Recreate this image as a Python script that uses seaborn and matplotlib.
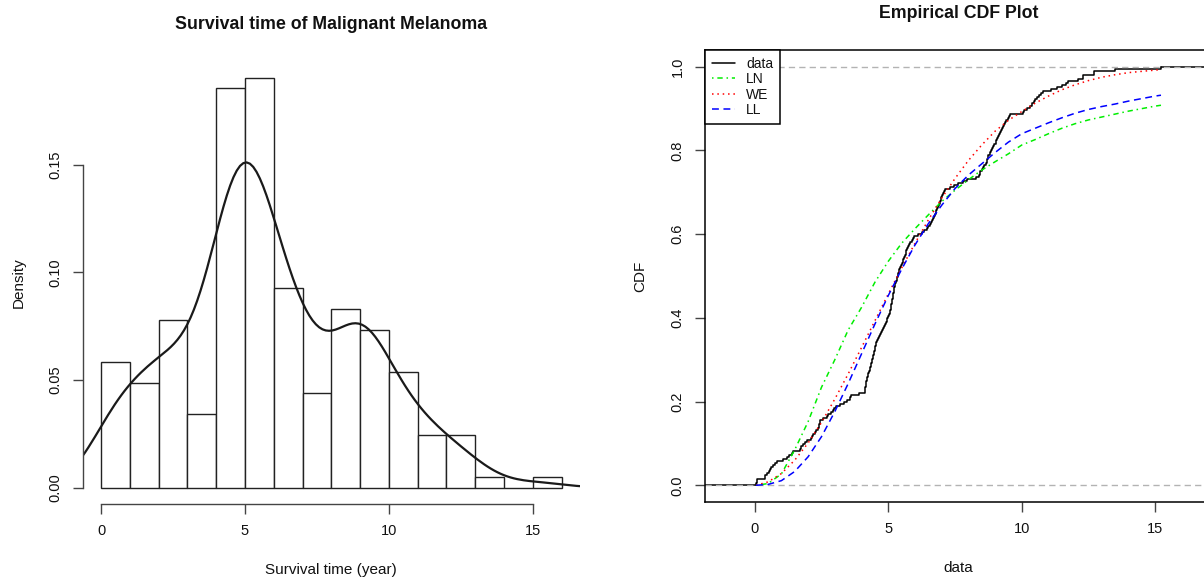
import matplotlib
matplotlib.use("Agg")
import matplotlib.pyplot as plt
import numpy as np
import seaborn as sns

# -----------------------------------------------------------------------------
# Data
# -----------------------------------------------------------------------------
# survival times in years, 205 patients (grouped by 1-year bin)
survival_years = [
    0.06, 0.07, 0.08, 0.37, 0.38, 0.45, 0.55, 0.59, 0.62, 0.70, 0.75, 0.85,
    1.05, 1.20, 1.30, 1.40, 1.45, 1.70, 1.75, 1.80, 1.90, 1.97,
    2.10, 2.15, 2.20, 2.25, 2.30, 2.38, 2.40, 2.42, 2.43, 2.45, 2.55, 2.70,
    2.75, 2.85, 2.93, 2.98,
    3.05, 3.20, 3.35, 3.45, 3.55, 3.60, 3.90,
    4.12, 4.13, 4.14, 4.15, 4.16, 4.18, 4.20, 4.22, 4.24, 4.26, 4.28, 4.30,
    4.32, 4.34, 4.36, 4.38, 4.40, 4.42, 4.44, 4.46, 4.48, 4.50, 4.52, 4.54,
    4.56, 4.58, 4.62, 4.66, 4.70, 4.73, 4.76, 4.80, 4.84, 4.88, 4.91, 4.94,
    4.97, 4.99,
    5.02, 5.05, 5.08, 5.10, 5.11, 5.12, 5.14, 5.15, 5.16, 5.18, 5.19, 5.20,
    5.22, 5.23, 5.25, 5.27, 5.29, 5.31, 5.33, 5.35, 5.37, 5.39, 5.42, 5.45,
    5.48, 5.51, 5.54, 5.57, 5.60, 5.62, 5.65, 5.67, 5.70, 5.74, 5.78, 5.83,
    5.88, 5.93, 5.98,
    6.10, 6.25, 6.35, 6.45, 6.50, 6.55, 6.60, 6.65, 6.68, 6.72, 6.75, 6.78,
    6.80, 6.82, 6.86, 6.90, 6.93, 6.96, 6.98,
    7.02, 7.05, 7.08, 7.12, 7.30, 7.45, 7.60, 7.80, 7.95,
    8.30, 8.40, 8.42, 8.45, 8.50, 8.55, 8.60, 8.65, 8.68, 8.70, 8.72, 8.75,
    8.80, 8.84, 8.88, 8.92, 8.96,
    9.02, 9.05, 9.08, 9.12, 9.15, 9.18, 9.22, 9.26, 9.30, 9.34, 9.37, 9.42,
    9.47, 9.52, 9.55,
    10.05, 10.10, 10.20, 10.30, 10.40, 10.45, 10.50, 10.55, 10.65, 10.72, 10.80,
    11.10, 11.30, 11.50, 11.65, 11.73,
    12.10, 12.28, 12.29, 12.70, 12.72,
    13.47,
    15.21,
]

hist_bins = list(range(0, 17))

# fitted CDFs, evaluated between min and max of the data
fit_x = [0.05, 0.5, 1.0, 1.5, 2.0, 2.5, 3.0, 3.5, 4.0, 4.5, 5.0, 5.5, 6.0, 6.5,
         7.0, 7.5, 8.0, 8.5, 9.0, 9.5, 10.0, 10.5, 11.0, 11.5, 12.0, 12.5,
         13.0, 13.5, 14.0, 14.5, 15.0, 15.21]
ln_cdf = [0.0, 0.004, 0.027, 0.085, 0.152, 0.234, 0.300, 0.371, 0.425, 0.485,
          0.535, 0.578, 0.613, 0.646, 0.678, 0.705, 0.730, 0.753, 0.773, 0.792,
          0.813, 0.826, 0.840, 0.853, 0.864, 0.873, 0.880, 0.887, 0.894, 0.900,
          0.906, 0.908]
we_cdf = [0.0, 0.008, 0.028, 0.060, 0.101, 0.150, 0.206, 0.266, 0.329, 0.393,
          0.457, 0.519, 0.578, 0.634, 0.686, 0.733, 0.776, 0.813, 0.846, 0.872,
          0.893, 0.913, 0.930, 0.945, 0.957, 0.967, 0.975, 0.981, 0.986, 0.989,
          0.992, 0.993]
ll_cdf = [0.0, 0.002, 0.011, 0.033, 0.068, 0.116, 0.176, 0.243, 0.314, 0.385,
          0.453, 0.516, 0.574, 0.625, 0.669, 0.709, 0.741, 0.768, 0.795, 0.820,
          0.840, 0.853, 0.866, 0.878, 0.889, 0.898, 0.905, 0.911, 0.918, 0.924,
          0.930, 0.932]

FIG_W, FIG_H = 1204, 578
TEXT_COL = "#111111"
AXIS_COL = "#444444"
TICK_SIZE = 10.5
LABEL_SIZE = 11
TITLE_SIZE = 12.8

sns.set_style("ticks")
plt.rcParams["font.family"] = ["Liberation Sans", "DejaVu Sans"]
plt.rcParams["text.color"] = TEXT_COL
plt.rcParams["axes.labelcolor"] = TEXT_COL
plt.rcParams["xtick.color"] = TEXT_COL
plt.rcParams["ytick.color"] = TEXT_COL


def box(left, top, right, bottom):
    # pixel box -> figure fraction
    return [left / FIG_W, 1 - bottom / FIG_H, (right - left) / FIG_W, (bottom - top) / FIG_H]


fig = plt.figure(figsize=(FIG_W / 100, FIG_H / 100), dpi=100)
fig.patch.set_facecolor("white")

# -----------------------------------------------------------------------------
# Left: histogram + kernel density
# -----------------------------------------------------------------------------
ax1 = fig.add_axes(box(82.7, 61.6, 580, 504))
data = np.asarray(survival_years)

sns.histplot(x=data, bins=hist_bins, stat="density", ax=ax1,
             color="white", edgecolor="#222222", linewidth=1.0, alpha=1)

# R's default bandwidth (bw.nrd0) expressed as a factor of the std
sd = data.std(ddof=1)
iqr = np.subtract(*np.percentile(data, [75, 25]))
bw_factor = 0.9 * min(sd, iqr / 1.34) * len(data) ** (-0.2) / sd
sns.kdeplot(x=data, ax=ax1, bw_method=bw_factor, color="#1a1a1a", linewidth=1.6, cut=4)

ax1.set_xlim(-0.64, 16.64)
ax1.set_ylim(-0.0076, 0.1978)
ax1.set_xticks([0, 5, 10, 15])
ax1.set_yticks([0, 0.05, 0.10, 0.15])
ax1.set_yticklabels(["0.00", "0.05", "0.10", "0.15"])
for side in ["top", "right"]:
    ax1.spines[side].set_visible(False)
ax1.spines["left"].set_bounds(0, 0.15)
ax1.spines["bottom"].set_bounds(0, 15)
for side in ["left", "bottom"]:
    ax1.spines[side].set_color(AXIS_COL)
    ax1.spines[side].set_linewidth(1.0)
ax1.tick_params(length=7.2, width=1.0, color=AXIS_COL, labelsize=TICK_SIZE, pad=7.5)
ax1.tick_params(axis="y", labelrotation=90)
for lab in ax1.get_yticklabels():
    lab.set_va("center")

ax1.set_xlabel("Survival time (year)", fontsize=LABEL_SIZE, va="center")
ax1.set_ylabel("Density", fontsize=LABEL_SIZE, va="center")
h1 = 504 - 61.6
w1 = 580 - 82.7
ax1.xaxis.set_label_coords(0.5, -66 / h1)
ax1.yaxis.set_label_coords(-64 / w1, 0.5)
ax1.set_title("Survival time of Malignant Melanoma", fontsize=TITLE_SIZE, fontweight="bold",
              y=1 + 37.6 / h1, va="center", pad=0)

# -----------------------------------------------------------------------------
# Right: empirical CDF vs fitted CDFs
# -----------------------------------------------------------------------------
ax2 = fig.add_axes(box(705, 50, 1212, 502))
x_lo, x_hi = -1.86, 17.12

sns.ecdfplot(x=data, ax=ax2, color="black", linewidth=1.1, label="data")
ax2.plot([x_lo, data.min()], [0, 0], color="black", linewidth=1.1)
ax2.plot([data.max(), x_hi], [1, 1], color="black", linewidth=1.1)
for level in [0, 1]:
    ax2.axhline(level, color="#b3b3b3", linewidth=1.0, linestyle=(0, (4.5, 3)))

sns.lineplot(x=fit_x, y=ln_cdf, ax=ax2, color="#00ee00", linewidth=1.1,
             linestyle=(0, (1, 2.5, 3.5, 2.5)), label="LN")
sns.lineplot(x=fit_x, y=we_cdf, ax=ax2, color="#ff0000", linewidth=1.1,
             linestyle=(0, (1, 2.5)), label="WE")
sns.lineplot(x=fit_x, y=ll_cdf, ax=ax2, color="#0000ff", linewidth=1.1,
             linestyle=(0, (4.5, 3)), label="LL")

ax2.set_xlim(x_lo, x_hi)
ax2.set_ylim(-0.04, 1.04)
ax2.set_xticks([0, 5, 10, 15])
ax2.set_yticks([0, 0.2, 0.4, 0.6, 0.8, 1.0])
ax2.set_yticklabels(["0.0", "0.2", "0.4", "0.6", "0.8", "1.0"])
for side in ax2.spines:
    ax2.spines[side].set_color("black")
    ax2.spines[side].set_linewidth(1.1)
ax2.tick_params(length=7.2, width=1.0, color=AXIS_COL, labelsize=TICK_SIZE, pad=7.5)
ax2.tick_params(axis="y", labelrotation=90)
for lab in ax2.get_yticklabels():
    lab.set_va("center")

ax2.set_xlabel("data", fontsize=LABEL_SIZE, va="center")
ax2.set_ylabel("CDF", fontsize=LABEL_SIZE, va="center")
h2 = 502 - 50
w2 = 1212 - 705
ax2.xaxis.set_label_coords(0.5, -66 / h2)
ax2.yaxis.set_label_coords(-65 / w2, 0.5)
ax2.set_title("Empirical CDF Plot", fontsize=TITLE_SIZE, fontweight="bold",
              y=1 + 36.3 / h2, va="center", pad=0)

handles, labels = ax2.get_legend_handles_labels()
leg = ax2.legend(handles, labels, loc="upper left", bbox_to_anchor=(0, 1),
                 borderaxespad=0, fontsize=10, frameon=True, fancybox=False,
                 edgecolor="black", framealpha=1, handlelength=1.65,
                 handletextpad=0.8, labelspacing=0.1, borderpad=0.5)
leg.get_frame().set_linewidth(1.1)

fig.savefig("out.png", dpi=100, facecolor="white")
